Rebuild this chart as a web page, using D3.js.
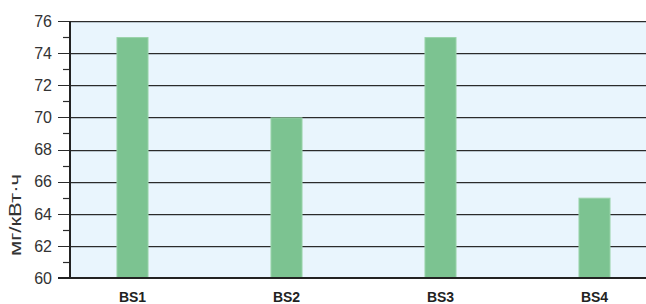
<!DOCTYPE html>
<html>
<head>
<meta charset="utf-8">
<script src="https://cdn.jsdelivr.net/npm/d3@7"></script>
<style>
  body { margin: 0; background: #fff; }
  svg { display: block; font-family: "Liberation Sans", Arial, sans-serif; }
</style>
</head>
<body>
<div id="chart"></div>
<script>
const categories = ["BS1", "BS2", "BS3", "BS4"];
const values = [75, 70, 75, 65];
const majorTicks = [60, 62, 64, 66, 68, 70, 72, 74, 76];
const minorTicks = [61, 63, 65, 67, 69, 71, 73, 75];
const yLabel = "мг/кВт·ч";

const width = 646, height = 304;
const plot = { left: 70, right: 646, top: 21, bottom: 278 };

const svg = d3.select("#chart").append("svg")
  .attr("width", width)
  .attr("height", height);

const y = d3.scaleLinear().domain([60, 76]).range([plot.bottom, plot.top]);
const x = d3.scaleBand()
  .domain(categories)
  .range([55.5, 671.5])
  .paddingInner(0.792)
  .paddingOuter(0.396);

// plot background
svg.append("rect")
  .attr("x", plot.left)
  .attr("y", plot.top)
  .attr("width", plot.right - plot.left)
  .attr("height", plot.bottom - plot.top)
  .attr("fill", "#e9f5fd");

// gridlines + major ticks
const grid = svg.append("g");
grid.selectAll("line.shadow")
  .data(majorTicks.filter(d => d > 60))
  .join("line")
  .attr("class", "shadow")
  .attr("x1", plot.left).attr("x2", plot.right)
  .attr("y1", d => Math.round(y(d)) + 1.5).attr("y2", d => Math.round(y(d)) + 1.5)
  .attr("stroke", "#b8c4cc")
  .attr("stroke-width", 1);
grid.selectAll("line.grid")
  .data(majorTicks.filter(d => d > 60))
  .join("line")
  .attr("class", "grid")
  .attr("x1", 58).attr("x2", plot.right)
  .attr("y1", d => Math.round(y(d)) + 0.5).attr("y2", d => Math.round(y(d)) + 0.5)
  .attr("stroke", "#2b2b2b")
  .attr("stroke-width", 1.2);

// minor ticks
svg.append("g").selectAll("line")
  .data(minorTicks)
  .join("line")
  .attr("x1", 63).attr("x2", plot.left)
  .attr("y1", d => Math.round(y(d)) + 0.5).attr("y2", d => Math.round(y(d)) + 0.5)
  .attr("stroke", "#2b2b2b")
  .attr("stroke-width", 1.2);

// bars
svg.append("g").selectAll("rect")
  .data(values)
  .join("rect")
  .attr("x", (d, i) => x(categories[i]) + 0.5)
  .attr("y", d => y(d) + 0.5)
  .attr("width", x.bandwidth() - 1)
  .attr("height", d => y(60) - y(d) - 0.5)
  .attr("fill", "#7cc391")
  .attr("stroke", "#9ad3aa")
  .attr("stroke-width", 1);

// axes lines
svg.append("line")
  .attr("x1", plot.left).attr("x2", plot.left)
  .attr("y1", plot.top).attr("y2", plot.bottom)
  .attr("stroke", "#222")
  .attr("stroke-width", 2);
svg.append("line")
  .attr("x1", 58).attr("x2", plot.right)
  .attr("y1", plot.bottom).attr("y2", plot.bottom)
  .attr("stroke", "#222")
  .attr("stroke-width", 2);

// y tick labels
svg.append("g").selectAll("text")
  .data(majorTicks)
  .join("text")
  .attr("x", 52)
  .attr("y", d => y(d))
  .attr("dy", "0.36em")
  .attr("text-anchor", "end")
  .attr("font-size", 16)
  .attr("fill", "#333")
  .text(d => d);

// x labels
svg.append("g").selectAll("text")
  .data(categories)
  .join("text")
  .attr("x", d => x(d) + x.bandwidth() / 2)
  .attr("y", 301.5)
  .attr("text-anchor", "middle")
  .attr("font-size", 14)
  .attr("font-weight", "bold")
  .attr("fill", "#222")
  .text(d => d);

// y axis title (glyphs stretched along the text like the original)
svg.append("text")
  .attr("transform", "translate(21,215) rotate(-90) scale(1.38,1)")
  .attr("text-anchor", "middle")
  .attr("font-size", 16)
  .attr("fill", "#333")
  .text(yLabel);
</script>
</body>
</html>
